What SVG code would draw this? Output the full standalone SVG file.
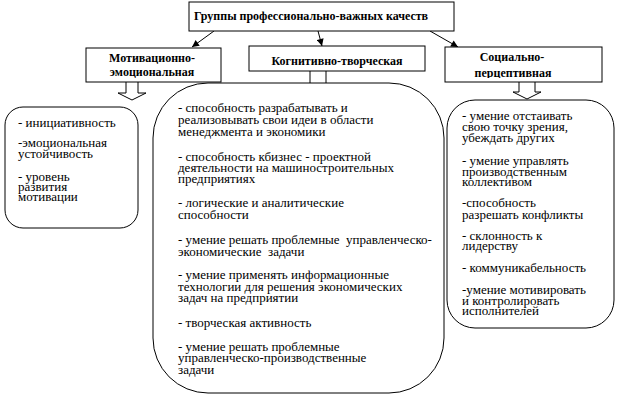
<svg xmlns="http://www.w3.org/2000/svg" width="617" height="406" viewBox="0 0 617 406">
<style>
.box{fill:#fff;stroke:#000;stroke-width:1}
.rbox{fill:#fff;stroke:#000;stroke-width:1}
.c{stroke:#000;stroke-width:1;fill:none}
.blk{fill:#fff;stroke:#000;stroke-width:1}
</style>
<defs>
<marker id="ah" viewBox="0 0 10 10" refX="10" refY="5" markerWidth="8" markerHeight="7" markerUnits="userSpaceOnUse" orient="auto">
<path d="M0,0 L10,5 L0,10 z" fill="#000"/>
</marker>
<clipPath id="clipR"><rect x="445" y="47" width="157" height="31"/></clipPath>
</defs>
<rect width="617" height="406" fill="#fff"/>
<g id="connectors">
<line class="c" x1="214" y1="31" x2="192" y2="47" marker-end="url(#ah)"/>
<line class="c" x1="318" y1="31" x2="322" y2="46" marker-end="url(#ah)"/>
<line class="c" x1="430" y1="31" x2="458" y2="47" marker-end="url(#ah)"/>
<path class="blk" d="M126,82 V93 H118 L132,100 L146,93 H138 V82"/>
<path class="blk" d="M310,71 V88 H298 L318,94 L338,88 H326 V71"/>
<path class="blk" d="M519,82 V92 H513 L527,99 L541,92 H535 V82"/>
</g>
<g style="font-family:'Liberation Serif',serif" font-weight="bold" font-size="12" fill="#000" text-anchor="middle">
<g id="root">
<rect class="box" x="189" y="2" width="265" height="29"/>
<text x="311" y="20">Группы профессионально-важных качеств</text>
</g>
<g id="motiv">
<rect class="box" x="86" y="48" width="135" height="34"/>
<text x="152" y="62">Мотивационно-</text>
<text x="152" y="76">эмоциональная</text>
</g>
<g id="cogn">
<rect class="box" x="249" y="46" width="176" height="25"/>
<text x="337" y="65">Когнитивно-творческая</text>
</g>
<g id="soc">
<rect class="box" x="445" y="47" width="157" height="35"/>
<g clip-path="url(#clipR)">
<text x="512" y="61">Социально-</text>
<text x="513" y="77">перцептивная</text>
</g>
</g>
</g>
<g style="font-family:'Liberation Serif',serif" font-size="13" fill="#000">
<g id="motiv-list">
<rect class="rbox" x="5" y="107" width="133" height="121" rx="18" ry="18"/>
<text x="18" y="127">- инициативность</text>
<text x="18" y="147">-эмоциональная</text>
<text x="18" y="158">устойчивость</text>
<text x="18" y="181">- уровень</text>
<text x="18" y="191">развития</text>
<text x="18" y="201">мотивации</text>
</g>
<g id="cogn-list">
<rect class="rbox" x="153" y="83" width="291" height="310" rx="55" ry="55"/>
<text x="178" y="112">- способность разрабатывать и</text>
<text x="178" y="124">реализовывать свои идеи в области</text>
<text x="178" y="136">менеджмента и экономики</text>
<text x="178" y="161">- способность кбизнес - проектной</text>
<text x="178" y="172">деятельности на машиностроительных</text>
<text x="178" y="183">предприятиях</text>
<text x="178" y="207">- логические и аналитические</text>
<text x="178" y="219">способности</text>
<text x="178" y="244" xml:space="preserve" style="white-space:pre">- умение решать проблемные  управленческо-</text>
<text x="178" y="256" xml:space="preserve" style="white-space:pre">экономические  задачи</text>
<text x="178" y="279">- умение применять информационные</text>
<text x="178" y="291">технологии для решения экономических</text>
<text x="178" y="302">задач на предприятии</text>
<text x="178" y="327">- творческая активность</text>
<text x="178" y="351">- умение решать проблемные</text>
<text x="178" y="362">управленческо-производственные</text>
<text x="178" y="374">задачи</text>
</g>
<g id="soc-list">
<rect class="rbox" x="447" y="100" width="167" height="228" rx="28" ry="28"/>
<text x="462" y="120">- умение отстаивать</text>
<text x="462" y="131">свою точку зрения,</text>
<text x="462" y="142">убеждать других</text>
<text x="462" y="165">- умение управлять</text>
<text x="462" y="176">производственным</text>
<text x="462" y="186">коллективом</text>
<text x="462" y="207">-способность</text>
<text x="462" y="219">разрешать конфликты</text>
<text x="462" y="240">- склонность к</text>
<text x="462" y="250">лидерству</text>
<text x="462" y="272">- коммуникабельность</text>
<text x="462" y="294">-умение мотивировать</text>
<text x="462" y="305">и контролировать</text>
<text x="462" y="315">исполнителей</text>
</g>
</g>
</svg>
